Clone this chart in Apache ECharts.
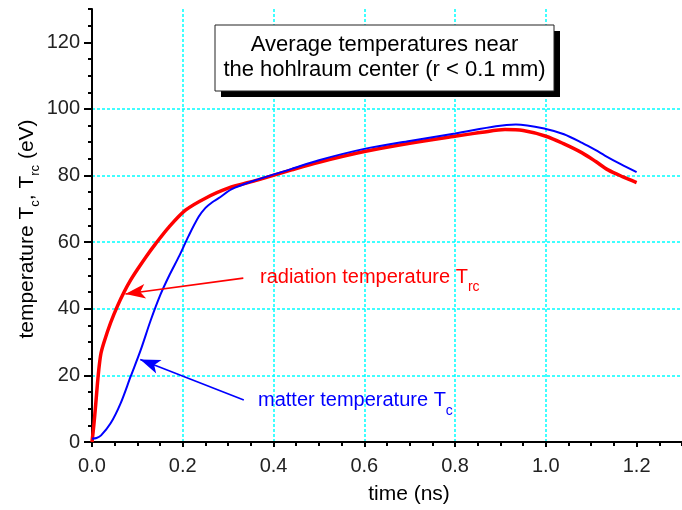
<!DOCTYPE html>
<html>
<head>
<meta charset="utf-8">
<script src="https://cdn.jsdelivr.net/npm/echarts@6/dist/echarts.min.js"></script>
<style>
  html, body { margin: 0; padding: 0; background: #fff; }
  #chart { width: 682px; height: 510px; }
</style>
</head>
<body>
<div id="chart"></div>
<script>
// Tick values shown on the axes
const xTickValues = [0, 0.2, 0.4, 0.6, 0.8, 1.0, 1.2];
const yTickValues = [0, 20, 40, 60, 80, 100, 120];

// Radiation temperature T_rc (eV) versus time (ns)
const timeRad = [0, 0.004, 0.008, 0.012, 0.016, 0.02, 0.027, 0.041, 0.056, 0.071, 0.085, 0.1, 0.12,
  0.14, 0.17, 0.206, 0.25, 0.3, 0.366, 0.44, 0.5, 0.6, 0.7, 0.8, 0.86, 0.91, 0.95,
  1.0, 1.04, 1.08, 1.11, 1.137, 1.17, 1.2];
const radTemp = [0, 5, 11, 17.5, 23, 26.8, 30.2, 35.8, 40.8, 45.1, 48.6, 51.8, 55.8,
  59.5, 64.6, 69.6, 73.2, 76.2, 78.7, 81.7, 84, 87.2, 89.7, 91.8, 93, 93.8, 93.5,
  91.8, 89.5, 86.8, 84.2, 81.7, 79.6, 77.9];

// Matter temperature T_c (eV) versus time (ns)
const timeMat = [0, 0.01, 0.02, 0.041, 0.063, 0.085, 0.107, 0.129, 0.151, 0.171, 0.192,
  0.213, 0.235, 0.25, 0.265, 0.279, 0.308, 0.352, 0.44, 0.5, 0.6, 0.7, 0.8, 0.89, 0.934, 1.0,
  1.04, 1.08, 1.11, 1.13, 1.165, 1.2];
const matTemp = [1, 1.2, 2, 5.6, 11.6, 19.6, 27.5, 36.4, 44.3, 50.2, 55.8,
  61.9, 67.6, 70.3, 72, 73.2, 75.9, 78.2, 82, 84.6, 88, 90.4, 92.6, 94.8, 95.3, 94,
  92.4, 89.8, 87.6, 86, 83.4, 81];

// Annotation arrows: [start, tip] in (time, temperature)
const radArrow = [[0.3334, 49.2], [0.0736, 44.45]];
const matArrow = [[0.3345, 12.6], [0.1063, 24.8]];

const FONT = '"Liberation Sans", Arial, sans-serif';
const pairs = (xs, ys) => xs.map((x, i) => [x, ys[i]]);

const chart = echarts.init(document.getElementById('chart'), null, { renderer: 'canvas' });

const axisBlack = { color: '#000', width: 2 };
const gridCyan = { color: '#00ffff', type: [3, 2], width: 1.5 };

function arrowLine(pts, color) {
  return {
    silent: true,
    animation: false,
    symbol: ['none', 'arrow'],
    lineStyle: { color: color, width: 1.6, type: 'solid' },
    itemStyle: { color: color },
    label: { show: false },
    emphasis: { disabled: true },
    data: [[
      { coord: pts[0], symbol: 'none' },
      { coord: pts[1], symbol: 'arrow', symbolSize: [11, 20] }
    ]]
  };
}

const option = {
  animation: false,
  backgroundColor: '#fff',
  grid: { left: 92, right: -6, top: 9, bottom: 68, containLabel: false },
  xAxis: [
    {
      type: 'value', min: 0, max: 1.3, interval: 0.2, position: 'bottom',
      axisLine: { onZero: false, lineStyle: axisBlack },
      axisTick: { customValues: xTickValues, length: 5, lineStyle: axisBlack },
      axisLabel: {
        customValues: xTickValues, formatter: v => v.toFixed(1),
        fontSize: 20, color: '#222', margin: 14, fontFamily: FONT
      },
      splitLine: { show: true, showMaxLine: false, lineStyle: gridCyan }
    },
    {
      type: 'value', min: 0, max: 1.3, interval: 0.05, position: 'bottom',
      axisLine: { show: false, onZero: false },
      axisTick: { length: 4, lineStyle: axisBlack },
      axisLabel: { show: false },
      splitLine: { show: false }
    }
  ],
  yAxis: [
    {
      type: 'value', min: 0, max: 130, interval: 20, position: 'left',
      axisLine: { show: true, onZero: false, lineStyle: axisBlack },
      axisTick: { show: true, customValues: yTickValues, length: 8, lineStyle: axisBlack },
      axisLabel: {
        customValues: yTickValues,
        formatter: v => (v % 20 === 0 ? String(v) : ''),
        fontSize: 20, color: '#222', margin: 12, fontFamily: FONT
      },
      splitLine: { show: true, showMaxLine: false, lineStyle: gridCyan }
    },
    {
      type: 'value', min: 0, max: 130, interval: 5, position: 'left',
      axisLine: { show: false, onZero: false },
      axisTick: { show: true, length: 4, lineStyle: axisBlack },
      axisLabel: { show: false },
      splitLine: { show: false }
    }
  ],
  series: [
    {
      name: 'radiation temperature',
      type: 'line', xAxisIndex: 0, yAxisIndex: 0,
      data: pairs(timeRad, radTemp),
      symbol: 'none', showSymbol: false,
      smooth: 0.3,
      lineStyle: { color: '#ff0000', width: 3.5 },
      z: 3,
      markLine: arrowLine(radArrow, '#ff0000')
    },
    {
      name: 'matter temperature',
      type: 'line', xAxisIndex: 0, yAxisIndex: 0,
      data: pairs(timeMat, matTemp),
      symbol: 'none', showSymbol: false,
      smooth: 0.3,
      lineStyle: { color: '#0000ff', width: 2 },
      z: 4,
      markLine: arrowLine(matArrow, '#0000ff')
    }
  ],
  graphic: [
    // Title box with a drop shadow
    { type: 'rect', z: 10, shape: { x: 221, y: 31, width: 339, height: 66 }, style: { fill: '#000' } },
    { type: 'rect', z: 11, shape: { x: 215, y: 25, width: 339, height: 66 }, style: { fill: '#fff', stroke: '#222', lineWidth: 1 } },
    {
      type: 'text', z: 12, x: 384.5, y: 57.5,
      style: {
        text: 'Average temperatures near\nthe hohlraum center (r < 0.1 mm)',
        align: 'center', verticalAlign: 'middle',
        fontSize: 22, lineHeight: 25.7, fontFamily: FONT, fill: '#000'
      }
    },
    // Curve annotations
    {
      type: 'text', z: 12, x: 260, y: 267.3,
      style: {
        text: '{m|radiation temperature T}{s|rc}',
        align: 'left', verticalAlign: 'top', fill: '#ff0000',
        rich: {
          m: { fontSize: 20, lineHeight: 20, verticalAlign: 'top', fontFamily: FONT, fill: '#ff0000' },
          s: { fontSize: 14, lineHeight: 14, padding: [13, 0, 0, 0], verticalAlign: 'top', fontFamily: FONT, fill: '#ff0000' }
        }
      }
    },
    {
      type: 'text', z: 12, x: 258, y: 390.7,
      style: {
        text: '{m|matter temperature T}{s|c}',
        align: 'left', verticalAlign: 'top', fill: '#0000ff',
        rich: {
          m: { fontSize: 20, lineHeight: 20, verticalAlign: 'top', fontFamily: FONT, fill: '#0000ff' },
          s: { fontSize: 14, lineHeight: 14, padding: [13, 0, 0, 0], verticalAlign: 'top', fontFamily: FONT, fill: '#0000ff' }
        }
      }
    },
    // Axis titles
    {
      type: 'text', z: 12, x: 409, y: 494,
      style: {
        text: 'time (ns)', align: 'center', verticalAlign: 'middle',
        fontSize: 21, fontFamily: FONT, fill: '#000'
      }
    },
    {
      type: 'text', z: 12, x: 27.5, y: 229, rotation: Math.PI / 2,
      style: {
        text: '{m|temperature T}{s|c}{m|, T}{s|rc}{m| (eV)}',
        align: 'center', verticalAlign: 'middle', fill: '#000',
        rich: {
          m: { fontSize: 21, lineHeight: 21, verticalAlign: 'top', fontFamily: FONT, fill: '#000' },
          s: { fontSize: 13, lineHeight: 13, padding: [12, 0, 0, 0], verticalAlign: 'top', fontFamily: FONT, fill: '#000' }
        }
      }
    }
  ]
};

chart.setOption(option);
</script>
</body>
</html>
